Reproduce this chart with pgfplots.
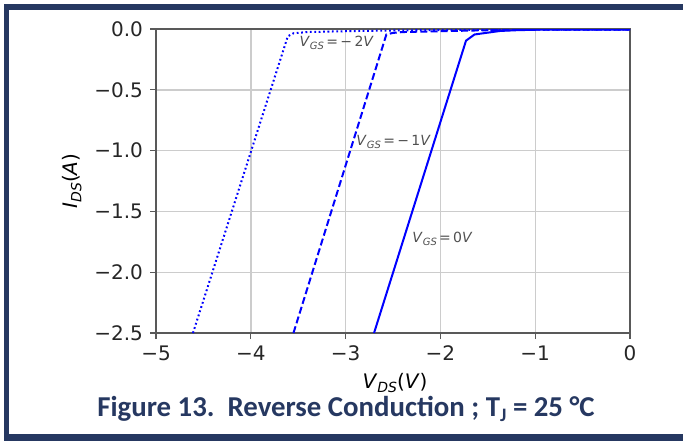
\documentclass[border=0pt]{standalone}
\usepackage{pgfplots}
\pgfplotsset{compat=1.18}
\usepackage{fontspec}
\setmainfont{DejaVu Sans}
\newfontfamily\capfont{Carlito}
\definecolor{navy}{HTML}{263861}
\definecolor{lblgray}{HTML}{505050}
\newcommand{\vgs}[1]{\textit{V}\raisebox{-0.35ex}{\fontsize{5}{6}\selectfont\textit{GS}}\,=\,#1\textit{V}}
\begin{document}
\begin{tikzpicture}
\useasboundingbox (0,0) rectangle (341.5pt,220.5pt);
\fill[navy] (1.75pt,0) rectangle (4.35pt,218.5pt);
\fill[navy] (1.75pt,215.5pt) rectangle (341.5pt,218.5pt);
\fill[navy] (1.75pt,0) rectangle (341.5pt,3.5pt);
\begin{axis}[
  at={(78pt,54pt)}, anchor=south west,
  scale only axis, width=237pt, height=152pt,
  xmin=-5, xmax=0, ymin=-2.5, ymax=0,
  xtick={-5,-4,-3,-2,-1,0}, xticklabels={−5,−4,−3,−2,−1,0},
  ytick={-2.5,-2,-1.5,-1,-0.5,0}, yticklabels={−2.5,−2.0,−1.5,−1.0,−0.5,0.0},
  tick label style={font=\fontsize{10}{12}\selectfont, color=black!85},
  grid=major, grid style={black!20, line width=0.7pt},
  axis line style={black!65, line width=0.7pt},
  tick style={black!65, line width=0.6pt},
  tick align=outside, major tick length=3pt,
  xtick pos=left, ytick pos=left,
]
\addplot[blue, line width=1pt, dash pattern=on 0.9pt off 1.3pt] coordinates {
  (-4.61,-2.5) (-3.61,-0.06) (-3.55,-0.035) (-3.4,-0.025) (-3.0,-0.018) (-2.5,-0.012) (-2.0,-0.008) (-1.0,-0.005) (0,-0.004)};
\addplot[blue, line width=1pt, dash pattern=on 3.5pt off 1.6pt] coordinates {
  (-3.55,-2.5) (-2.57,-0.045) (-2.5,-0.032) (-2.4,-0.025) (-2.0,-0.018) (-1.5,-0.01) (-1.0,-0.006) (0,-0.004)};
\addplot[blue, line width=1pt] coordinates {
  (-2.70,-2.5) (-1.73,-0.096) (-1.64,-0.045) (-1.37,-0.016) (-1.2,-0.01) (-1.0,-0.006) (0,-0.004)};
\node[anchor=west, inner sep=0, text=lblgray, font=\fontsize{7}{8}\selectfont] at (axis cs:-3.49,-0.115) {\vgs{−\,2}};
\node[anchor=west, inner sep=0, text=lblgray, font=\fontsize{7}{8}\selectfont] at (axis cs:-2.89,-0.927) {\vgs{−\,1}};
\node[anchor=west, inner sep=0, text=lblgray, font=\fontsize{7}{8}\selectfont] at (axis cs:-2.30,-1.727) {\vgs{0}};
\end{axis}
\node[font=\fontsize{10}{12}\selectfont] at (197.5pt,29pt) {\textit{V}\raisebox{-0.35ex}{\fontsize{7}{8}\selectfont\textit{DS}}(\textit{V})};
\node[font=\fontsize{10}{12}\selectfont, rotate=90] at (36pt,130pt) {\textit{I}\raisebox{-0.35ex}{\fontsize{7}{8}\selectfont\textit{DS}}(\textit{A})};
\node[anchor=base west, inner sep=0, text=navy, font=\capfont\bfseries\fontsize{14.4}{16}\selectfont] at (48.5pt,12.5pt) {Figure 13.\ \ Reverse Conduction ; T\raisebox{-0.4ex}{\fontsize{9.5}{10}\selectfont J} = 25 °C};
\end{tikzpicture}
\end{document}
